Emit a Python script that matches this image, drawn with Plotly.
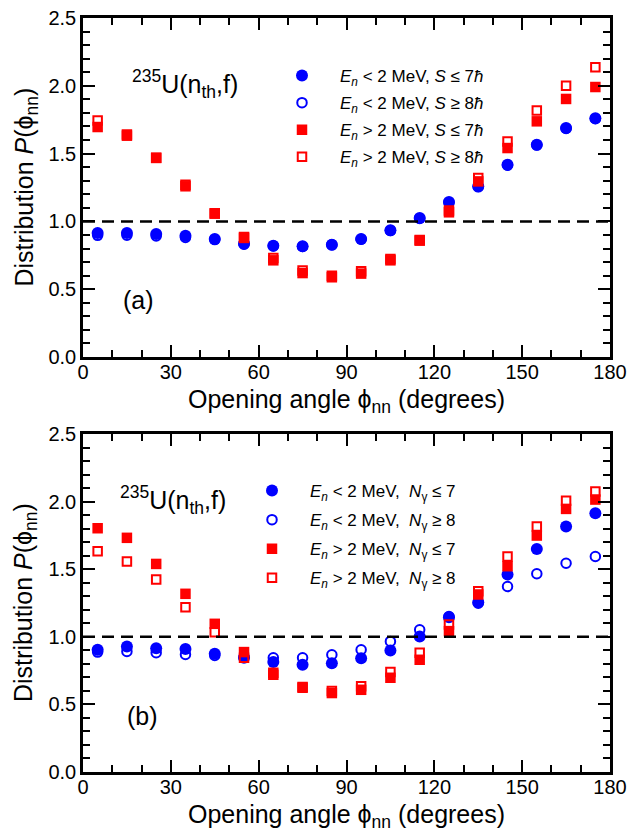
import plotly.graph_objects as go

# ---------------- data ----------------
angles = [5, 15, 25, 35, 45, 55, 65, 75, 85, 95, 105, 115, 125, 135, 145, 155, 165, 175]

# panel (a): selection on spin S
a_blue_fill = [0.914, 0.914, 0.907, 0.895, 0.870, 0.836, 0.821, 0.816, 0.828, 0.870,
               0.934, 1.025, 1.143, 1.259, 1.418, 1.566, 1.689, 1.760]
a_blue_open = [0.897, 0.898, 0.893, 0.882, 0.866, 0.832, 0.819, 0.815, 0.827, 0.868,
               0.932, 1.022, 1.140, 1.255, 1.415, 1.563, 1.686, 1.757]
a_red_fill = [1.696, 1.632, 1.468, 1.259, 1.057, 0.878, 0.713, 0.619, 0.588, 0.615,
              0.713, 0.858, 1.067, 1.295, 1.541, 1.738, 1.903, 1.991]
a_red_open = [1.745, 1.640, 1.470, 1.270, 1.060, 0.885, 0.730, 0.637, 0.600, 0.632,
              0.723, 0.862, 1.080, 1.320, 1.590, 1.817, 2.001, 2.136]

# panel (b): selection on gamma multiplicity
b_blue_fill = [0.904, 0.929, 0.916, 0.909, 0.874, 0.845, 0.813, 0.793, 0.805, 0.842,
               0.899, 1.002, 1.145, 1.256, 1.461, 1.650, 1.815, 1.914]
b_blue_open = [0.887, 0.892, 0.882, 0.869, 0.862, 0.850, 0.845, 0.845, 0.867, 0.904,
               0.966, 1.052, 1.150, 1.249, 1.372, 1.466, 1.544, 1.594]
b_red_fill = [1.803, 1.732, 1.539, 1.318, 1.096, 0.887, 0.734, 0.623, 0.584, 0.608,
              0.697, 0.830, 1.042, 1.313, 1.522, 1.749, 1.946, 2.015]
b_red_open = [1.633, 1.557, 1.424, 1.219, 1.034, 0.845, 0.719, 0.628, 0.599, 0.635,
              0.739, 0.882, 1.091, 1.337, 1.594, 1.815, 2.007, 2.074]

legend_a = ["<i>E</i><sub><i>n</i></sub> &lt; 2 MeV, <i>S</i> ≤ 7<i>ħ</i>",
            "<i>E</i><sub><i>n</i></sub> &lt; 2 MeV, <i>S</i> ≥ 8<i>ħ</i>",
            "<i>E</i><sub><i>n</i></sub> &gt; 2 MeV, <i>S</i> ≤ 7<i>ħ</i>",
            "<i>E</i><sub><i>n</i></sub> &gt; 2 MeV, <i>S</i> ≥ 8<i>ħ</i>"]
legend_b = ["<i>E</i><sub><i>n</i></sub> &lt; 2 MeV,  <i>N</i><sub>γ</sub> ≤ 7",
            "<i>E</i><sub><i>n</i></sub> &lt; 2 MeV,  <i>N</i><sub>γ</sub> ≥ 8",
            "<i>E</i><sub><i>n</i></sub> &gt; 2 MeV,  <i>N</i><sub>γ</sub> ≤ 7",
            "<i>E</i><sub><i>n</i></sub> &gt; 2 MeV,  <i>N</i><sub>γ</sub> ≥ 8"]

x_ticks = [0, 30, 60, 90, 120, 150, 180]
y_ticks = [0.0, 0.5, 1.0, 1.5, 2.0, 2.5]

BLUE = "#0000ff"
RED = "#ff0000"
FONT = "Liberation Sans, Arial, sans-serif"

W, H = 631, 830
X0, X1 = 83, 610
PANELS = {"a": (18, 357), "b": (434, 772)}


def py(p):
    return 1 - p / H


fig = go.Figure()

styles = [
    # (key, color, symbol, size, line width, legend rank)
    ("blue_open", BLUE, "circle-open", 9.5, 2, 2),
    ("blue_fill", BLUE, "circle", 12, 0, 1),
    ("red_open", RED, "square-open", 8.5, 2, 4),
    ("red_fill", RED, "square", 10.5, 0, 3),
]
series = {
    "a": {"blue_fill": a_blue_fill, "blue_open": a_blue_open,
          "red_fill": a_red_fill, "red_open": a_red_open},
    "b": {"blue_fill": b_blue_fill, "blue_open": b_blue_open,
          "red_fill": b_red_fill, "red_open": b_red_open},
}
names = {"a": legend_a, "b": legend_b}
axes = {"a": ("x", "y", "legend"), "b": ("x2", "y2", "legend2")}

for panel in ("a", "b"):
    xa, ya, lg = axes[panel]
    for key, col, sym, size, lw, rank in styles:
        fig.add_trace(go.Scatter(
            x=angles, y=series[panel][key], mode="markers",
            name=names[panel][rank - 1], legendrank=rank,
            legend=lg, legendgroup=panel + key,
            xaxis=xa, yaxis=ya,
            marker=dict(color=col, symbol=sym, size=size,
                        line=dict(color=col, width=lw)),
            showlegend=True,
        ))

axis_common = dict(
    showline=True, linecolor="black", linewidth=2.5, mirror="allticks",
    ticks="inside", ticklen=12, tickwidth=2, tickcolor="black",
    showgrid=False, zeroline=False,
    tickfont=dict(family=FONT, size=20, color="black"),
)

xcfg = dict(axis_common, range=[0, 180], tickvals=x_ticks,
            minor=dict(dtick=10, ticks="inside", ticklen=7, tickwidth=2,
                       tickcolor="black", showgrid=False),
            domain=[X0 / W, X1 / W], ticklabelstandoff=-5)
ycfg = dict(axis_common, range=[0, 2.5], tickvals=y_ticks, tickformat=".1f",
            minor=dict(dtick=0.1, ticks="inside", ticklen=7, tickwidth=2,
                       tickcolor="black", showgrid=False),
            ticklabelstandoff=0)

fig.update_layout(
    width=W, height=H,
    margin=dict(l=0, r=0, t=0, b=0, autoexpand=False),
    paper_bgcolor="white", plot_bgcolor="white",
    font=dict(family=FONT, color="black"),
    xaxis=dict(xcfg, anchor="y"),
    yaxis=dict(ycfg, anchor="x", domain=[py(PANELS["a"][1]), py(PANELS["a"][0])]),
    xaxis2=dict(xcfg, anchor="y2"),
    yaxis2=dict(ycfg, anchor="x2", domain=[py(PANELS["b"][1]), py(PANELS["b"][0])]),
    legend=dict(x=264 / W, y=py(58), xanchor="left", yanchor="top",
                bgcolor="rgba(0,0,0,0)", font=dict(family=FONT, size=17),
                itemwidth=66, traceorder="grouped", tracegroupgap=2),
    legend2=dict(x=234 / W, y=py(473), xanchor="left", yanchor="top",
                 bgcolor="rgba(0,0,0,0)", font=dict(family=FONT, size=17),
                 itemwidth=66, traceorder="grouped", tracegroupgap=4),
    showlegend=True,
)

# dashed reference line at P = 1
for xr, yr in (("x", "y"), ("x2", "y2")):
    fig.add_shape(type="line", xref=xr, yref=yr, x0=0, x1=180, y0=1, y1=1,
                  line=dict(color="black", width=2.5, dash="12px,7px"), layer="above")

# annotations
ann = []
for panel, lab, tx, lx in (("a", "(a)", 130, 138), ("b", "(b)", 118, 142)):
    top, bot = PANELS[panel]
    ann.append(dict(text="<sup>235</sup>U(n<sub>th</sub>,f)", x=tx / W,
                    y=py(top + 66), xanchor="left", yanchor="middle"))
    ann.append(dict(text=lab, x=lx / W, y=py(top + 282),
                    xanchor="center", yanchor="middle"))
    ann.append(dict(text="Opening angle ϕ<sub>nn</sub> (degrees)",
                    x=(X0 + X1) / 2 / W, y=py(bot + 44),
                    xanchor="center", yanchor="middle"))
    ann.append(dict(text="Distribution <i>P</i>(ϕ<sub>nn</sub>)", textangle=-90,
                    x=25 / W, y=py((top + bot) / 2),
                    xanchor="center", yanchor="middle"))
for a in ann:
    a.update(xref="paper", yref="paper", showarrow=False,
             font=dict(family=FONT, size=25, color="black"))
    fig.add_annotation(**a)

fig.write_html("out.html",
               config={"displayModeBar": False},
               post_script="document.body.style.margin='0';"
                           "document.body.style.overflow='hidden';")
